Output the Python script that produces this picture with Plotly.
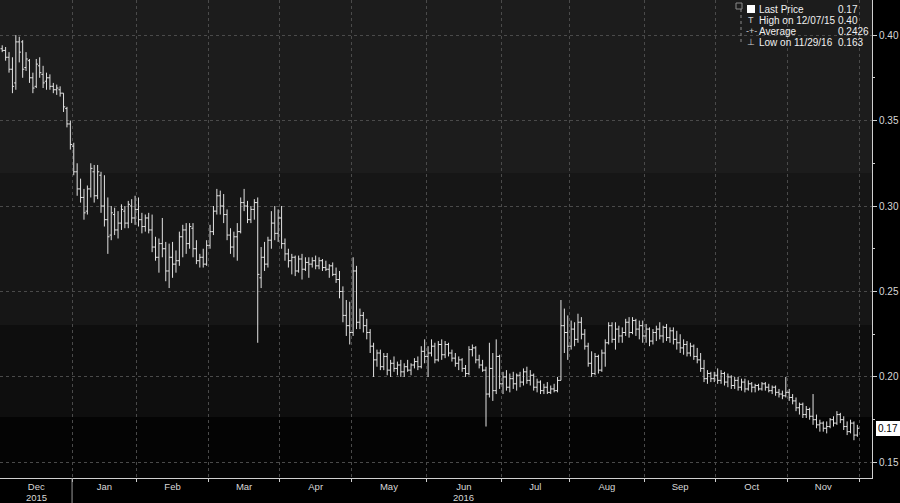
import plotly.graph_objects as go
import numpy as np

# ---------------- data ----------------
month_labels = ["Dec", "Jan", "Feb", "Mar", "Apr", "May", "Jun",
                "Jul", "Aug", "Sep", "Oct", "Nov"]
bars_per_month = [21, 19, 21, 21, 21, 22, 22, 20, 22, 21, 21, 21]
year_labels = ["2015", "2016"]
year_label_month = [0, 6]   # month index under which the year is written

open_ = [
    # Dec 2015
    0.392,0.391,0.387,0.380,0.372,0.396,0.396,0.381,0.385,0.375,0.370,0.382,0.377,0.373,0.375,0.370,0.368,0.368,0.366,0.357,0.348,
    # Jan
    0.335,0.320,0.310,0.305,0.297,0.310,0.320,0.306,0.318,0.300,0.292,0.283,0.295,0.286,0.290,0.297,0.290,0.300,0.293,
    # Feb
    0.298,0.292,0.288,0.293,0.286,0.276,0.270,0.278,0.275,0.262,0.270,0.266,0.268,0.282,0.286,0.278,0.287,0.275,0.268,0.270,0.266,
    # Mar
    0.277,0.285,0.297,0.306,0.300,0.295,0.283,0.276,0.282,0.285,0.302,0.300,0.292,0.298,0.302,0.258,0.270,0.266,0.280,0.290,0.284,
    # Apr
    0.293,0.278,0.272,0.268,0.270,0.262,0.269,0.263,0.267,0.266,0.268,0.265,0.268,0.264,0.263,0.265,0.260,0.257,0.250,0.236,0.230,
    # May
    0.226,0.262,0.232,0.236,0.230,0.226,0.218,0.210,0.214,0.206,0.212,0.204,0.208,0.205,0.207,0.203,0.206,0.204,0.207,0.209,0.206,0.215,
    # Jun
    0.212,0.214,0.218,0.210,0.219,0.213,0.219,0.214,0.211,0.208,0.210,0.205,0.202,0.216,0.217,0.210,0.207,0.204,0.190,0.205,0.192,0.212,
    # Jul
    0.196,0.200,0.194,0.199,0.196,0.201,0.197,0.203,0.198,0.201,0.194,0.197,0.192,0.194,0.191,0.193,0.192,0.198,0.230,0.226,
    # Aug
    0.218,0.228,0.222,0.232,0.225,0.218,0.208,0.202,0.212,0.204,0.214,0.220,0.230,0.222,0.228,0.224,0.226,0.232,0.226,0.233,0.228,0.230,
    # Sep
    0.224,0.228,0.221,0.226,0.228,0.224,0.229,0.223,0.227,0.222,0.220,0.217,0.219,0.214,0.218,0.212,0.210,0.205,0.199,0.202,0.199,
    # Oct
    0.201,0.198,0.202,0.197,0.200,0.195,0.198,0.194,0.197,0.193,0.196,0.194,0.195,0.193,0.196,0.194,0.192,0.194,0.191,0.190,0.189,
    # Nov
    0.191,0.188,0.186,0.182,0.184,0.178,0.181,0.177,0.175,0.172,0.173,0.170,0.171,0.175,0.173,0.178,0.175,0.171,0.168,0.173,0.166,
]
high = [
    0.394,0.393,0.390,0.387,0.400,0.399,0.397,0.390,0.386,0.378,0.386,0.387,0.382,0.378,0.377,0.372,0.371,0.370,0.366,0.358,0.350,
    0.337,0.325,0.316,0.310,0.312,0.325,0.324,0.324,0.320,0.318,0.305,0.300,0.299,0.297,0.301,0.300,0.303,0.304,0.306,
    0.305,0.296,0.295,0.296,0.295,0.282,0.281,0.293,0.279,0.278,0.279,0.274,0.285,0.289,0.290,0.290,0.290,0.280,0.272,0.275,0.280,
    0.289,0.300,0.310,0.309,0.307,0.298,0.287,0.285,0.290,0.305,0.310,0.303,0.300,0.304,0.305,0.276,0.279,0.282,0.297,0.300,0.298,
    0.300,0.281,0.275,0.272,0.271,0.271,0.272,0.270,0.270,0.270,0.271,0.270,0.269,0.268,0.266,0.267,0.264,0.262,0.253,0.245,0.244,
    0.270,0.265,0.240,0.238,0.234,0.228,0.220,0.216,0.216,0.214,0.214,0.210,0.212,0.209,0.210,0.208,0.210,0.208,0.211,0.212,0.218,0.222,
    0.218,0.222,0.220,0.221,0.222,0.221,0.220,0.216,0.214,0.212,0.211,0.207,0.218,0.219,0.218,0.213,0.210,0.206,0.220,0.214,0.222,0.213,
    0.203,0.204,0.202,0.203,0.202,0.203,0.205,0.206,0.204,0.202,0.199,0.198,0.196,0.197,0.195,0.196,0.200,0.245,0.240,0.236,
    0.233,0.232,0.237,0.235,0.228,0.220,0.215,0.214,0.213,0.216,0.222,0.232,0.232,0.232,0.230,0.229,0.234,0.235,0.235,0.234,0.233,0.233,
    0.231,0.229,0.228,0.230,0.232,0.230,0.231,0.229,0.229,0.227,0.225,0.222,0.221,0.220,0.219,0.217,0.214,0.210,0.204,0.203,0.203,
    0.205,0.204,0.203,0.202,0.201,0.200,0.200,0.199,0.199,0.198,0.197,0.196,0.196,0.197,0.197,0.196,0.195,0.195,0.193,0.192,0.200,
    0.193,0.190,0.188,0.185,0.185,0.183,0.182,0.190,0.178,0.175,0.174,0.174,0.176,0.177,0.180,0.179,0.177,0.174,0.175,0.174,0.172,
]
low = [
    0.390,0.385,0.378,0.366,0.368,0.384,0.375,0.379,0.372,0.366,0.369,0.375,0.369,0.368,0.368,0.366,0.365,0.364,0.355,0.346,0.333,
    0.318,0.306,0.302,0.292,0.295,0.305,0.302,0.304,0.296,0.288,0.272,0.280,0.283,0.281,0.286,0.287,0.287,0.290,0.289,
    0.288,0.284,0.285,0.284,0.273,0.268,0.261,0.270,0.256,0.252,0.258,0.261,0.265,0.270,0.272,0.275,0.270,0.266,0.264,0.264,0.265,
    0.275,0.283,0.295,0.295,0.290,0.280,0.272,0.270,0.268,0.284,0.297,0.290,0.290,0.292,0.220,0.252,0.262,0.264,0.275,0.280,0.279,
    0.275,0.268,0.264,0.260,0.259,0.261,0.257,0.262,0.258,0.264,0.263,0.263,0.262,0.262,0.258,0.259,0.255,0.246,0.232,0.224,0.219,
    0.224,0.228,0.228,0.226,0.222,0.214,0.200,0.206,0.204,0.204,0.201,0.200,0.203,0.201,0.200,0.200,0.203,0.201,0.205,0.204,0.205,0.208,
    0.200,0.212,0.208,0.209,0.210,0.211,0.212,0.209,0.206,0.204,0.203,0.200,0.201,0.212,0.208,0.205,0.203,0.171,0.188,0.186,0.190,0.193,
    0.190,0.192,0.191,0.193,0.192,0.194,0.195,0.196,0.195,0.192,0.191,0.190,0.190,0.190,0.190,0.191,0.191,0.198,0.214,0.210,
    0.216,0.218,0.220,0.222,0.216,0.206,0.200,0.201,0.202,0.203,0.206,0.219,0.220,0.216,0.220,0.220,0.224,0.223,0.225,0.224,0.222,0.220,
    0.220,0.218,0.219,0.221,0.222,0.220,0.221,0.220,0.219,0.216,0.214,0.213,0.212,0.212,0.210,0.208,0.203,0.197,0.196,0.197,0.197,
    0.196,0.196,0.195,0.194,0.193,0.193,0.192,0.192,0.191,0.192,0.191,0.191,0.192,0.192,0.192,0.191,0.190,0.189,0.188,0.187,0.188,
    0.186,0.184,0.180,0.178,0.176,0.176,0.175,0.172,0.170,0.168,0.168,0.167,0.170,0.171,0.172,0.173,0.169,0.166,0.167,0.163,0.165,
]
close = [
    0.391,0.387,0.380,0.370,0.396,0.390,0.380,0.386,0.375,0.369,0.383,0.378,0.372,0.375,0.370,0.368,0.369,0.366,0.358,0.348,0.336,
    0.320,0.310,0.305,0.296,0.310,0.322,0.306,0.320,0.300,0.292,0.282,0.296,0.286,0.290,0.298,0.290,0.301,0.293,0.298,
    0.292,0.288,0.293,0.286,0.276,0.270,0.278,0.275,0.262,0.270,0.266,0.268,0.282,0.286,0.278,0.288,0.275,0.268,0.270,0.266,0.277,
    0.285,0.297,0.306,0.300,0.295,0.283,0.276,0.282,0.285,0.302,0.300,0.292,0.298,0.302,0.260,0.270,0.266,0.280,0.290,0.284,0.293,
    0.278,0.272,0.268,0.270,0.262,0.269,0.263,0.267,0.266,0.268,0.265,0.268,0.264,0.263,0.265,0.260,0.257,0.250,0.236,0.230,0.226,
    0.262,0.232,0.236,0.230,0.226,0.218,0.210,0.214,0.206,0.212,0.204,0.208,0.205,0.207,0.203,0.206,0.204,0.207,0.209,0.206,0.215,0.212,
    0.214,0.218,0.210,0.219,0.213,0.219,0.214,0.211,0.208,0.210,0.205,0.202,0.216,0.217,0.210,0.207,0.204,0.190,0.205,0.192,0.212,0.196,
    0.200,0.194,0.199,0.196,0.201,0.197,0.203,0.198,0.201,0.194,0.197,0.192,0.194,0.191,0.193,0.192,0.198,0.230,0.226,0.218,
    0.228,0.222,0.232,0.225,0.218,0.208,0.202,0.212,0.204,0.214,0.220,0.230,0.222,0.228,0.224,0.226,0.232,0.226,0.233,0.228,0.230,0.224,
    0.228,0.221,0.226,0.228,0.224,0.229,0.223,0.227,0.222,0.220,0.217,0.219,0.214,0.218,0.212,0.210,0.205,0.199,0.202,0.199,0.201,
    0.198,0.202,0.197,0.200,0.195,0.198,0.194,0.197,0.193,0.196,0.194,0.195,0.193,0.196,0.194,0.192,0.194,0.191,0.190,0.189,0.191,
    0.188,0.186,0.182,0.184,0.178,0.181,0.177,0.175,0.172,0.173,0.170,0.171,0.175,0.173,0.178,0.175,0.171,0.168,0.173,0.166,0.170,
]

legend_labels = ["Last Price", "High on 12/07/15", "Average", "Low on 11/29/16"]
legend_values = ["0.17", "0.40", "0.2426", "0.163"]
legend_symbols = ["", "T", "-+-", "\u22a5"]

y_ticks = [0.15, 0.20, 0.25, 0.30, 0.35, 0.40]

# ---------------- layout constants ----------------
W, H = 900, 503
ML, MR, MT, MB = 0, 28, 0, 25
PW, PH = W - ML - MR, H - MT - MB
Y_RANGE = [0.1409, 0.4205]
X_RANGE = [-0.65, 255.3]
FONT = "Liberation Sans, Arial, sans-serif"
BAR_COLOR = "#e2e2e2"
GRID_COLOR = "#4a4a4a"
AXIS_COLOR = "#d0d0d0"
TEXT_COLOR = "#d8d8d8"

bands = [  # (lower, upper, colour) background shading
    (0.3193, Y_RANGE[1], "#1c1c1c"),
    (0.2304, 0.3193, "#161616"),
    (0.1766, 0.2304, "#0e0e0e"),
    (Y_RANGE[0], 0.1766, "#040404"),
]


def px_x(p):
    return (p - ML) / PW


def px_y(p):
    return 1 - (p - MT) / PH


x = np.arange(len(close))
counts = np.array(bars_per_month)
starts = np.concatenate([[0], np.cumsum(counts)[:-1]])
bounds = list(np.cumsum(counts) - 0.5)
mids = list(starts + counts / 2 - 0.5)

fig = go.Figure()
fig.add_trace(go.Ohlc(
    x=x, open=open_, high=high, low=low, close=close,
    increasing=dict(line=dict(color=BAR_COLOR, width=1)),
    decreasing=dict(line=dict(color=BAR_COLOR, width=1)),
    tickwidth=0.5, hoverinfo="skip", showlegend=False,
))

shapes = []
for lo, hi, col in bands:
    shapes.append(dict(type="rect", xref="paper", yref="y", x0=0, x1=1, y0=lo, y1=hi,
                       fillcolor=col, line=dict(width=0), layer="below"))
# year divider below the axis
shapes.append(dict(type="line", xref="x", yref="paper", x0=bounds[0], x1=bounds[0],
                   y0=0, y1=-MB / PH, line=dict(color="#9a9a9a", width=1)))
# legend tree lines
shapes.append(dict(type="line", xref="paper", yref="paper", x0=px_x(741), x1=px_x(741),
                   y0=px_y(9), y1=px_y(44), line=dict(color="#8a8a8a", width=1, dash="dot")))
shapes.append(dict(type="rect", xref="paper", yref="paper", x0=px_x(736), x1=px_x(742),
                   y0=px_y(3), y1=px_y(9), line=dict(color="#8a8a8a", width=1)))
# last price legend square
shapes.append(dict(type="rect", xref="paper", yref="paper", x0=px_x(747), x1=px_x(755),
                   y0=px_y(5), y1=px_y(13), fillcolor="#ffffff", line=dict(width=0)))

annotations = []
row_y = [9.5, 20.5, 31.5, 42.5]
for i, (lab, val, sym) in enumerate(zip(legend_labels, legend_values, legend_symbols)):
    yy = px_y(row_y[i])
    annotations.append(dict(xref="paper", yref="paper", x=px_x(757), y=yy, text=lab,
                            xanchor="left", yanchor="middle", showarrow=False,
                            font=dict(family=FONT, size=10, color="#f0f0f0")))
    annotations.append(dict(xref="paper", yref="paper", x=px_x(836), y=yy, text=val,
                            xanchor="left", yanchor="middle", showarrow=False,
                            font=dict(family=FONT, size=10, color="#f0f0f0")))
    if sym:
        annotations.append(dict(xref="paper", yref="paper", x=px_x(751), y=yy, text=sym,
                                xanchor="center", yanchor="middle", showarrow=False,
                                font=dict(family=FONT, size=9, color="#d0d0d0")))
# year labels under the month labels
for lab, mi in zip(year_labels, year_label_month):
    annotations.append(dict(xref="x", yref="paper", x=mids[mi], y=px_y(497), text=lab,
                            xanchor="center", yanchor="middle", showarrow=False,
                            font=dict(family=FONT, size=9.5, color=TEXT_COLOR)))
# last price tag
annotations.append(dict(xref="paper", yref="y", x=1, y=close[-1], text=legend_values[0],
                        xanchor="left", yanchor="middle", xshift=4, showarrow=False,
                        bgcolor="#ffffff", bordercolor="#ffffff", borderpad=1,
                        font=dict(family=FONT, size=10, color="#000000")))

fig.update_layout(
    width=W, height=H,
    margin=dict(l=ML, r=MR, t=MT, b=MB, pad=0, autoexpand=False),
    paper_bgcolor="#000000", plot_bgcolor="#000000",
    font=dict(family=FONT, size=10, color=TEXT_COLOR),
    shapes=shapes, annotations=annotations,
    xaxis=dict(
        range=X_RANGE, tickmode="array", tickvals=mids, ticktext=month_labels,
        ticks="", showgrid=False, zeroline=False, showline=True, automargin=False,
        linecolor=AXIS_COLOR, linewidth=1, ticklabelstandoff=0,
        tickfont=dict(family=FONT, size=9.5, color=TEXT_COLOR),
        minor=dict(tickmode="array", tickvals=bounds, showgrid=True,
                   gridcolor=GRID_COLOR, griddash="dot", gridwidth=1,
                   ticks="outside", ticklen=3, tickcolor=AXIS_COLOR),
        rangeslider=dict(visible=False), fixedrange=True,
    ),
    yaxis=dict(
        range=Y_RANGE, side="right", tickmode="array", tickvals=y_ticks,
        ticktext=[f"{v:.2f}" for v in y_ticks], automargin=False,
        ticks="outside", ticklen=4, tickcolor=AXIS_COLOR, ticklabelstandoff=0,
        showgrid=True, gridcolor=GRID_COLOR, griddash="dot", gridwidth=1,
        zeroline=False, showline=True, linecolor=AXIS_COLOR, linewidth=1,
        tickfont=dict(family=FONT, size=10, color=TEXT_COLOR),
        minor=dict(dtick=0.025, tick0=0.0, ticks="outside", ticklen=2,
                   tickcolor=AXIS_COLOR, showgrid=False),
        fixedrange=True,
    ),
)

fig.write_html(
    "out.html",
    config={"displayModeBar": False},
    post_script="document.body.style.margin='0';document.body.style.background='#000';",
)
